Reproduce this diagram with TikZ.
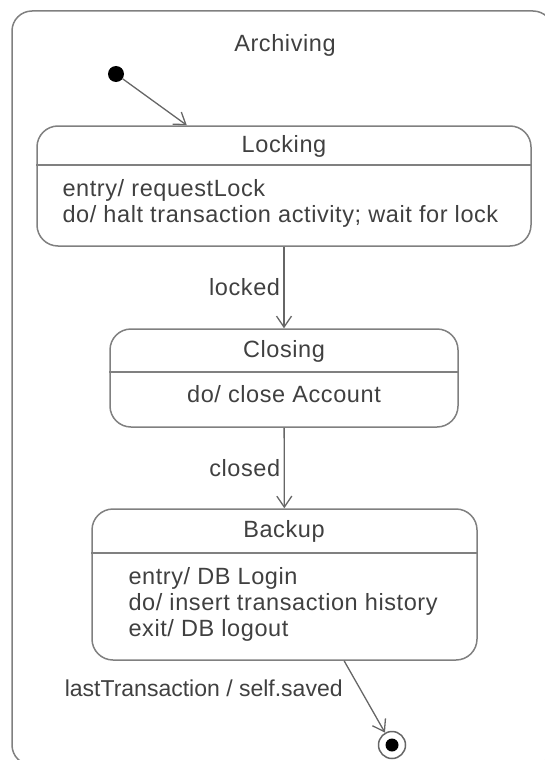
\documentclass[tikz,border=0pt]{standalone}
\usepackage{fontspec}
\setmainfont{Liberation Sans}[LetterSpace=2.5]
\newfontfamily\tightfont{Liberation Sans}
\usetikzlibrary{arrows.meta, positioning}

\begin{document}
\begin{tikzpicture}[x=1pt, y=-1pt,
    >={Straight Barb[length=11pt, width=15pt]},
    every node/.style={text=black!75, font=\fontsize{23.5}{26}\selectfont},
    frame/.style={draw=black!50, line width=1.5pt, rounded corners=20pt},
    statebox/.style={frame, rounded corners=21pt, inner sep=0pt},
    divider/.style={draw=black!50, line width=1.5pt},
    link/.style={->, draw=black!60, line width=1.3pt}]
  \useasboundingbox (0,0) rectangle (544,760);

  % composite state
  \node[frame, minimum width=541pt, minimum height=754pt] (archiving) at (282.5,388) {};
  \node (archname) at (285,45) {Archiving};

  \node[circle, fill=black, inner sep=0pt, minimum size=16pt] (init) at (116,74) {};

  % Locking
  \node[statebox, minimum width=494pt, minimum height=120pt] (locking) at (284,186) {};
  \node (lockname) at (284,146) {Locking};
  \draw[divider] (locking.west |- 0,165) -- (locking.east |- 0,165);
  \node[anchor=west, align=left] (lockdo) at (59,203)
    {entry/ requestLock\\do/ halt transaction activity; wait for lock};

  % Closing
  \node[statebox, minimum width=348pt, minimum height=98pt] (closing) at (284,378) {};
  \node (closename) at (284,351) {Closing};
  \draw[divider] (closing.west |- 0,372) -- (closing.east |- 0,372);
  \node (closedo) at (284,394) {do/ close Account};

  % Backup
  \node[statebox, minimum width=385pt, minimum height=151pt] (backup) at (284.5,584.5) {};
  \node (backname) at (284,531) {Backup};
  \draw[divider] (backup.west |- 0,553) -- (backup.east |- 0,553);
  \node[anchor=west, align=left] (backdo) at (125,604)
    {entry/ DB Login\\do/ insert transaction history\\exit/ DB logout};

  \node[circle, draw=black!60, line width=1.5pt, inner sep=0pt, minimum size=27pt] (final) at (392,745) {};
  \node[circle, fill=black, inner sep=0pt, minimum size=13pt] (finaldot) at (final) {};

  % transitions
  \draw[link] (init) -- (locking.148);
  \draw[link] (locking) -- node[left] (lockedlbl) {locked} (closing);
  \draw[link] (closing) -- node[left] (closedlbl) {closed} (backup);
  \draw[link] (backup.-52) -- node[left, pos=0.38, xshift=-13pt, font=\tightfont\fontsize{23}{26}\selectfont] (lastlbl)
    {lastTransaction / self.saved} (final);
\end{tikzpicture}
\end{document}
